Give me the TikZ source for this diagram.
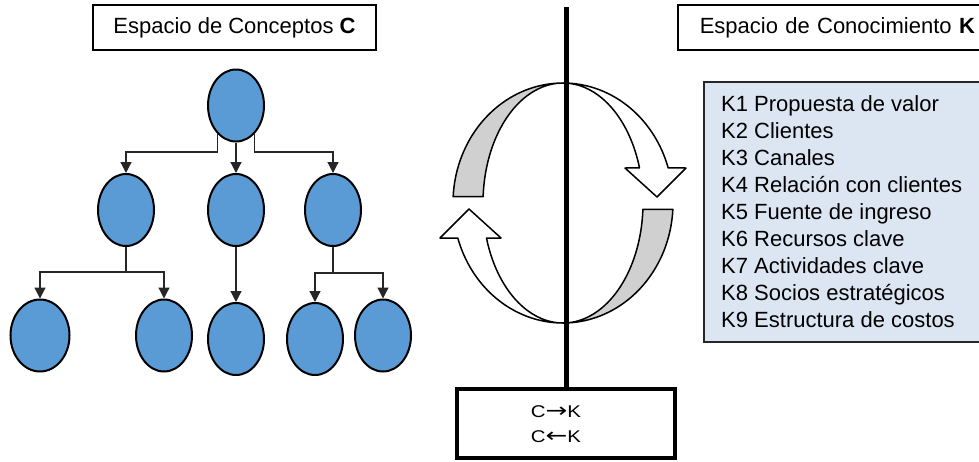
\documentclass[tikz,border=0pt]{standalone}
\usepackage{fontspec}
\setmainfont{Liberation Sans}
\newfontfamily\cklettersfont[FakeStretch=1.2]{Liberation Sans}
\newfontfamily\ckarrowfont[FakeStretch=1.3]{DejaVu Sans}
\usetikzlibrary{arrows.meta,shapes.geometric}
\definecolor{nodeblue}{HTML}{5B9BD5}
\definecolor{listbg}{HTML}{DCE6F2}
\definecolor{bandgray}{HTML}{D0D0D0}

% geometry of the C/K cycle (centre and radii)
\def\ccx{563}
\def\ccy{203}
\def\rro{110}
\def\rri{80}
\def\rry{120}

% arrow glyph for the C-K relation box
\newcommand{\ckarrow}[1]{{\ckarrowfont\fontsize{20}{20}\selectfont #1}}

\begin{document}
\begin{tikzpicture}[x=1pt,y=-1pt,
  concept/.style={ellipse, draw=black, line width=2pt, fill=nodeblue,
    minimum width=56pt, minimum height=72pt, inner sep=0pt},
  link/.style={draw=black!85, line width=1.2pt},
  conn/.style={link, -{Triangle[width=11pt,length=11pt]}},
  headbox/.style={draw=black, line width=1.5pt, minimum height=45pt,
    inner sep=0pt, font=\fontsize{22}{26}\selectfont},
  listtext/.style={inner sep=0pt, font=\fontsize{22}{26}\selectfont},
  cktext/.style={inner sep=0pt, font=\cklettersfont\fontsize{17}{20}\selectfont},
  band/.style={draw=black, line width=1.5pt, fill=bandgray, line join=round},
  turn/.style={draw=black, line width=1.5pt, fill=white, line join=round},
]
\useasboundingbox (0,0) rectangle (979,461);
\clip (0,0) rectangle (979,461);

% ---------- concept space ----------
\node[headbox, minimum width=283pt] (chead) at (234.5,27.5)
  {Espacio de Conceptos \textbf{C}};

\node[concept] (root) at (236,105.5) {};
\node[concept] (c1) at (126,210) {};
\node[concept] (c2) at (236,210) {};
\node[concept] (c3) at (333,210) {};
\node[concept, minimum width=59pt] (d1) at (40,335.5) {};
\node[concept] (d2) at (164,335.5) {};
\node[concept] (d3) at (236,339) {};
\node[concept] (d4) at (315,339) {};
\node[concept] (d5) at (383,335.5) {};

\draw[conn] (root.237) |- (c1.north |- 0,152) -- (c1.north);
\draw[conn] (root.south) -- (c2.north);
\draw[conn] (root.303) |- (c3.north |- 0,152) -- (c3.north);

\coordinate (j1) at (c1.south |- 0,272);
\draw[link] (c1.south) -- (j1);
\draw[conn] (j1) -| (d1.north);
\draw[conn] (j1) -| (d2.north);

\draw[conn] (c2.south) -- (d3.north);

\coordinate (j3) at (c3.south |- 0,273);
\draw[link] (c3.south) -- (j3);
\draw[conn] (j3) -| (d4.north);
\draw[conn] (j3) -| (d5.north);

% ---------- knowledge space ----------
\node[headbox, anchor=west, text width=300pt, align=left, inner xsep=22pt]
  (khead) at (677,27.5) {Espacio de Conocimiento \textbf{K}};

\node[draw=black!85, line width=1.5pt, fill=listbg, anchor=north west,
  minimum width=330pt, minimum height=260pt, inner sep=0pt] (klist) at (703,81) {};
\foreach \t [count=\i] in {K1 Propuesta de valor, K2 Clientes, K3 Canales,
    K4 Relación con clientes, K5 Fuente de ingreso, K6 Recursos clave,
    K7 Actividades clave, K8 Socios estratégicos, K9 Estructura de costos}
  \node[listtext, anchor=base west] (k\i) at (721,{111+27*(\i-1)}) {\t};

% ---------- C/K cycle ----------
% upper left band
\path[band] plot[domain=90:177,samples=40] ({\ccx+\rro*cos(\x)},{\ccy-\rry*sin(\x)})
  -- plot[domain=177:90,samples=40] ({\ccx+\rri*cos(\x)},{\ccy-\rry*sin(\x)}) -- cycle;
% upper right arrow, pointing down
\path[turn] plot[domain=90:17,samples=40] ({\ccx+\rro*cos(\x)},{\ccy-\rry*sin(\x)})
  -- (686,168) -- (657,197) -- (625,168)
  -- plot[domain=17:90,samples=40] ({\ccx+\rri*cos(\x)},{\ccy-\rry*sin(\x)}) -- cycle;
% lower right band
\path[band] plot[domain=-3:-90,samples=40] ({\ccx+\rro*cos(\x)},{\ccy-\rry*sin(\x)})
  -- plot[domain=-90:-3,samples=40] ({\ccx+\rri*cos(\x)},{\ccy-\rry*sin(\x)}) -- cycle;
% lower left arrow, pointing up
\path[turn] plot[domain=270:197,samples=40] ({\ccx+\rro*cos(\x)},{\ccy-\rry*sin(\x)})
  -- (440,238) -- (469,209) -- (501,238)
  -- plot[domain=197:270,samples=40] ({\ccx+\rri*cos(\x)},{\ccy-\rry*sin(\x)}) -- cycle;

% ---------- dividing axis and C-K box ----------
\node[draw=black, line width=3.5pt, minimum width=218pt, minimum height=69pt,
  inner sep=0pt] (ck) at (566,423.5) {};
\node[cktext, anchor=base] (ck1) at (556,417) {C\ckarrow{→}K};
\node[cktext, anchor=base] (ck2) at (556,442) {C\ckarrow{←}K};

\coordinate (axtop) at (566,7);
\draw[line width=5pt] (axtop) -- (ck.north);
\end{tikzpicture}
\end{document}
